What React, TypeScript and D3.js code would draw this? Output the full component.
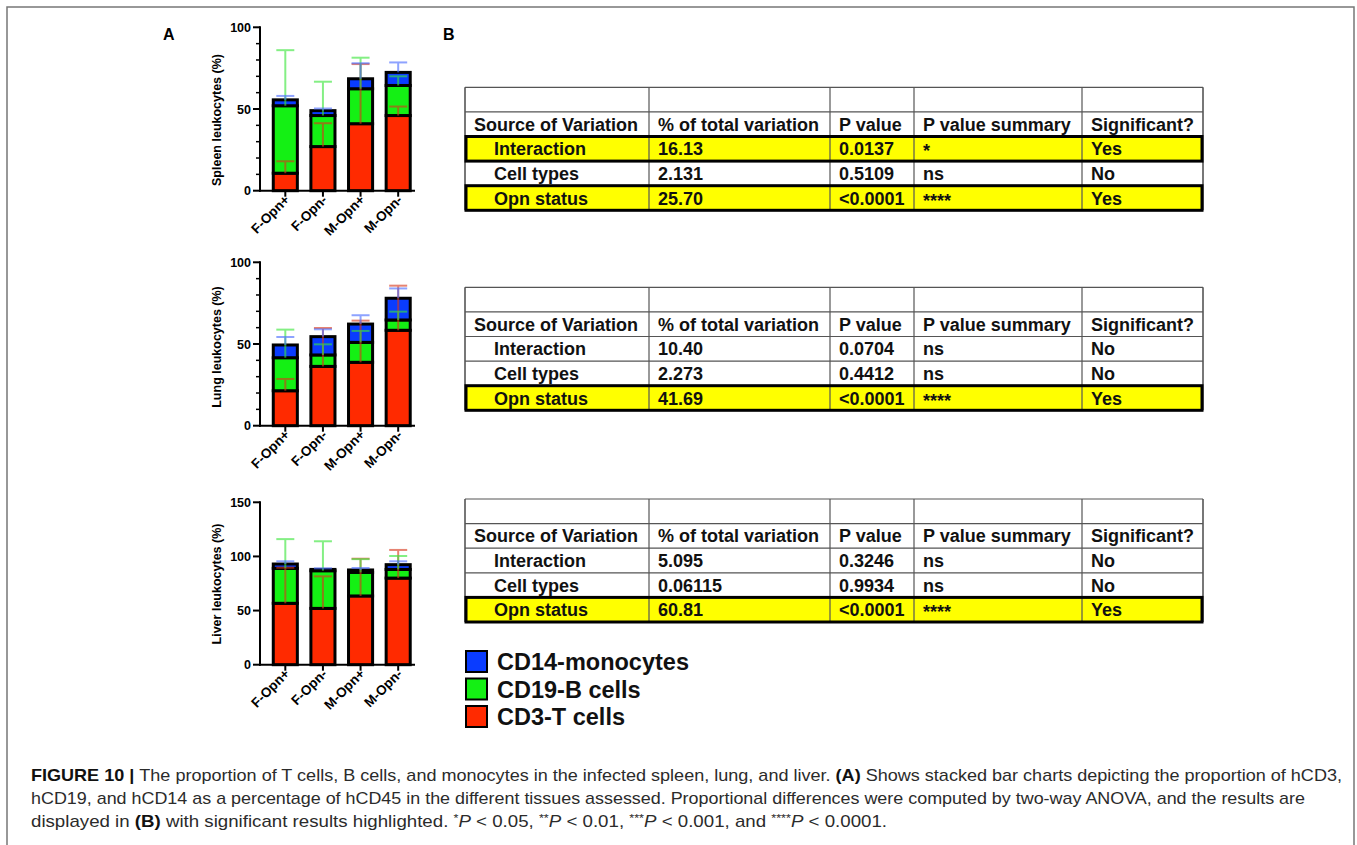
import React from "react";
import * as d3 from "d3";

// ---------- DATA ----------
const groups = ["F-Opn+", "F-Opn-", "M-Opn+", "M-Opn-"];
const cellKeys = ["cd3", "cd19", "cd14"];
const legendKeys = ["cd14", "cd19", "cd3"];
const legendLabels = ["CD14-monocytes", "CD19-B cells", "CD3-T cells"];

// Spleen (% of leukocytes): segment means and upper error (SD)
const spleenCD3 = [10.7, 27, 41, 46];
const spleenCD19 = [41.3, 19, 21.4, 18.4];
const spleenCD14 = [3.6, 3, 6.1, 8];
const spleenCD3Err = [7.3, 14.3, 36.5, 5.5];
const spleenCD19Err = [34, 20.7, 19, 5.6];
const spleenCD14Err = [2.4, 1.3, 9.5, 6.1];

// Lung
const lungCD3 = [21.4, 36.3, 38.8, 58.4];
const lungCD19 = [20.2, 7, 12.2, 6.3];
const lungCD14 = [7.8, 11.2, 11.2, 13.3];
const lungCD3Err = [7.2, 23.5, 25.5, 27.3];
const lungCD19Err = [17.2, 6.5, 7, 5.1];
const lungCD14Err = [4.9, 4.5, 5.4, 6];

// Liver
const liverCD3 = [56.7, 52, 63.5, 80];
const liverCD19 = [32.3, 34.8, 21.8, 8];
const liverCD14 = [4, 1.2, 2.2, 4.4];
const liverCD3Err = [32.9, 29.6, 34.4, 26];
const liverCD19Err = [27, 27.2, 12.2, 12.4];
const liverCD14Err = [2.5, 1, 1.8, 3.1];

const spleenTicks = [0, 50, 100];
const lungTicks = [0, 50, 100];
const liverTicks = [0, 50, 100, 150];

// ANOVA tables
const tableHeaders = ["Source of Variation", "% of total variation", "P value", "P value summary", "Significant?"];
const sources = ["Interaction", "Cell types", "Opn status"];
const spleenPct = ["16.13", "2.131", "25.70"];
const spleenP = ["0.0137", "0.5109", "<0.0001"];
const spleenSummary = ["*", "ns", "****"];
const spleenSig = ["Yes", "No", "Yes"];
const lungPct = ["10.40", "2.273", "41.69"];
const lungP = ["0.0704", "0.4412", "<0.0001"];
const lungSummary = ["ns", "ns", "****"];
const lungSig = ["No", "No", "Yes"];
const liverPct = ["5.095", "0.06115", "60.81"];
const liverP = ["0.3246", "0.9934", "<0.0001"];
const liverSummary = ["ns", "ns", "****"];
const liverSig = ["No", "No", "Yes"];

// ---------- STYLE ----------
const FILL: Record<string, string> = { cd3: "#ff2a00", cd19: "#14f014", cd14: "#0a3cff" };
const ERR: Record<string, string> = { cd3: "#d8381c", cd19: "#3ae63a", cd14: "#4a6cff" };
const FONT = "'Liberation Sans', Arial, Helvetica, sans-serif";

type Panel = {
  title: string;
  cd3: number[]; cd19: number[]; cd14: number[];
  e3: number[]; e19: number[]; e14: number[];
  ticks: number[]; max: number; y0: number; y1: number; minor: boolean; titleY: number;
};

const panels: Panel[] = [
  { title: "Spleen leukocytes (%)", cd3: spleenCD3, cd19: spleenCD19, cd14: spleenCD14, e3: spleenCD3Err, e19: spleenCD19Err, e14: spleenCD14Err, ticks: spleenTicks, max: 100, y0: 190.7, y1: 27.3, minor: true, titleY: 120 },
  { title: "Lung leukocytes (%)", cd3: lungCD3, cd19: lungCD19, cd14: lungCD14, e3: lungCD3Err, e19: lungCD19Err, e14: lungCD14Err, ticks: lungTicks, max: 100, y0: 425.7, y1: 262.3, minor: true, titleY: 347 },
  { title: "Liver leukocytes (%)", cd3: liverCD3, cd19: liverCD19, cd14: liverCD14, e3: liverCD3Err, e19: liverCD19Err, e14: liverCD14Err, ticks: liverTicks, max: 150, y0: 664.7, y1: 502.3, minor: false, titleY: 584 },
];

const AXIS_X = 260;
const AXIS_END = 415;

function BarPanel({ p }: { p: Panel }) {
  const x = d3.scaleBand<string>().domain(groups).range([266.5, 417]).paddingInner(0.36).paddingOuter(0.18);
  const y = d3.scaleLinear().domain([0, p.max]).range([p.y0, p.y1]);
  const rows = groups.map((g, i) => ({ g, cd3: p.cd3[i], cd19: p.cd19[i], cd14: p.cd14[i] }));
  const errs: Record<string, number[]> = { cd3: p.e3, cd19: p.e19, cd14: p.e14 };
  const stacked = d3.stack<any>().keys(cellKeys)(rows);
  const minorTicks = p.minor ? d3.range(0, p.max + 0.1, 10).filter((v) => v % 50 !== 0) : [];
  const bw = x.bandwidth();
  return (
    <g>
      {stacked.map((s) => (
        <g key={s.key}>
          {s.map((d, i) => (
            <rect key={i} x={x(groups[i])!} y={y(d[1])} width={bw} height={y(d[0]) - y(d[1])}
              fill={FILL[s.key]} stroke="#000" strokeWidth={3} />
          ))}
        </g>
      ))}
      {stacked.map((s) => (
        <g key={"e" + s.key} stroke={ERR[s.key]} strokeWidth={2} opacity={0.62}>
          {s.map((d, i) => {
            const cx = x(groups[i])! + bw / 2;
            const yt = y(d[1] + errs[s.key][i]);
            return (
              <g key={i}>
                <line x1={cx} x2={cx} y1={y(d[1])} y2={yt} />
                <line x1={cx - 9} x2={cx + 9} y1={yt} y2={yt} />
              </g>
            );
          })}
        </g>
      ))}
      <line x1={AXIS_X} x2={AXIS_X} y1={y(p.max) - 1} y2={y(0) + 1} stroke="#000" strokeWidth={2} />
      {p.ticks.map((t) => (
        <g key={t}>
          <line x1={AXIS_X - 7} x2={AXIS_X} y1={y(t)} y2={y(t)} stroke="#000" strokeWidth={2} />
          <text x={AXIS_X - 9} y={y(t) + 4.5} textAnchor="end" fontSize={12.5} fontWeight="bold" fontFamily={FONT}>{t}</text>
        </g>
      ))}
      {minorTicks.map((t) => (
        <line key={"m" + t} x1={AXIS_X - 4} x2={AXIS_X} y1={y(t)} y2={y(t)} stroke="#000" strokeWidth={1.5} />
      ))}
      <line x1={AXIS_X - 1} x2={AXIS_END} y1={y(0)} y2={y(0)} stroke="#000" strokeWidth={2} />
      {groups.map((g) => {
        const cx = x(g)! + bw / 2;
        return (
          <g key={g}>
            <line x1={cx} x2={cx} y1={y(0)} y2={y(0) + 6} stroke="#000" strokeWidth={2} />
            <text transform={`translate(${cx + 5},${y(0) + 10}) rotate(-45)`} textAnchor="end" fontSize={13.5} fontWeight="bold" fontFamily={FONT}>{g}</text>
          </g>
        );
      })}
      <text transform={`translate(221,${p.titleY}) rotate(-90)`} textAnchor="middle" fontSize={12.5} fontWeight="bold" fontFamily={FONT}>{p.title}</text>
    </g>
  );
}

const colEdges = [465, 649, 830, 914, 1082, 1203];
const ROW_H = 24.6;

type Table = { top: number; pct: string[]; p: string[]; summary: string[]; sig: string[] };
const tables: Table[] = [
  { top: 87.3, pct: spleenPct, p: spleenP, summary: spleenSummary, sig: spleenSig },
  { top: 287.3, pct: lungPct, p: lungP, summary: lungSummary, sig: lungSig },
  { top: 499, pct: liverPct, p: liverP, summary: liverSummary, sig: liverSig },
];

function AnovaTable({ t }: { t: Table }) {
  const rowY = d3.range(6).map((i) => t.top + i * ROW_H);
  const left = colEdges[0];
  const right = colEdges[colEdges.length - 1];
  const dataRows = sources.map((s, i) => [s, t.pct[i], t.p[i], t.summary[i], t.sig[i]]);
  return (
    <g fontFamily={FONT} fontWeight="bold" fontSize={18}>
      {dataRows.map((r, i) =>
        r[4] === "Yes" ? (
          <rect key={"h" + i} x={left} y={rowY[i + 2]} width={right - left} height={ROW_H} fill="#ffff00" />
        ) : null
      )}
      {rowY.map((yy, i) => (
        <line key={"r" + i} x1={left} x2={right} y1={yy} y2={yy} stroke="#555" strokeWidth={1.2} />
      ))}
      {colEdges.map((xx, i) => (
        <line key={"c" + i} x1={xx} x2={xx} y1={rowY[0]} y2={rowY[5]} stroke="#555" strokeWidth={i === 0 || i === colEdges.length - 1 ? 1.6 : 1.2} />
      ))}
      {dataRows.map((r, i) =>
        r[4] === "Yes" ? (
          <rect key={"b" + i} x={left + 1} y={rowY[i + 2]} width={right - left - 2} height={ROW_H} fill="none" stroke="#000" strokeWidth={3} />
        ) : null
      )}
      {tableHeaders.map((h, j) => (
        <text key={"th" + j} x={colEdges[j] + 9} y={rowY[1] + ROW_H / 2 + 6.5} fill="#111">{h}</text>
      ))}
      {dataRows.map((r, i) =>
        r.map((c, j) => (
          <text key={"td" + i + "_" + j} x={colEdges[j] + (j === 0 ? 29 : 9)} y={rowY[i + 2] + ROW_H / 2 + 6.5 + (c.includes("*") && !/[0-9]/.test(c) ? 2 : 0)} fill="#111">{c}</text>
        ))
      )}
    </g>
  );
}

function Legend() {
  return (
    <g fontFamily={FONT} fontWeight="bold" fontSize={23.5}>
      {legendKeys.map((k, i) => (
        <g key={k}>
          <rect x={466} y={651 + i * 27.5} width={21} height={21} fill={FILL[k]} stroke="#000" strokeWidth={2} />
          <text x={497} y={670 + i * 27.5} fill="#111">{legendLabels[i]}</text>
        </g>
      ))}
    </g>
  );
}

type Seg = { t: string; b?: boolean; i?: boolean; sup?: boolean };
const captionLine1: Seg[] = [
  { t: "FIGURE 10 | ", b: true },
  { t: "The proportion of T cells, B cells, and monocytes in the infected spleen, lung, and liver. " },
  { t: "(A)", b: true },
  { t: " Shows stacked bar charts depicting the proportion of hCD3," },
];
const captionLine2: Seg[] = [
  { t: "hCD19, and hCD14 as a percentage of hCD45 in the different tissues assessed. Proportional differences were computed by two-way ANOVA, and the results are" },
];
const captionLine3: Seg[] = [
  { t: "displayed in " }, { t: "(B)", b: true }, { t: " with significant results highlighted. " },
  { t: "*", sup: true }, { t: "P", i: true }, { t: " < 0.05, " },
  { t: "**", sup: true }, { t: "P", i: true }, { t: " < 0.01, " },
  { t: "***", sup: true }, { t: "P", i: true }, { t: " < 0.001, and " },
  { t: "****", sup: true }, { t: "P", i: true }, { t: " < 0.0001." },
];

function CaptionLine({ segs, y, len }: { segs: Seg[]; y: number; len: number }) {
  let prevSup = false;
  return (
    <text x={31} y={y} fontFamily={FONT} fontSize={17} fill="#2b2b2b" xmlSpace="preserve" textLength={len} lengthAdjust="spacingAndGlyphs">
      {segs.map((s, k) => {
        const dy = s.sup ? -5 : prevSup ? 5 : 0;
        prevSup = !!s.sup;
        return (
          <tspan key={k} dy={dy || undefined} fontWeight={s.b ? "bold" : "normal"} fontStyle={s.i ? "italic" : "normal"} fontSize={s.sup ? 11.5 : 17} fill={s.b ? "#111" : undefined}>
            {s.t}
          </tspan>
        );
      })}
    </text>
  );
}

export default function App() {
  return (
    <svg width={1357} height={845} style={{ position: "absolute", left: 0, top: 0, background: "#fff" }}>
      <rect x={0} y={0} width={1357} height={845} fill="#fff" />
      <path d="M7,850 V7 H1354 V850" fill="none" stroke="#777" strokeWidth={1.5} />
      <text x={163} y={40} fontFamily={FONT} fontWeight="bold" fontSize={16}>A</text>
      <text x={443} y={40} fontFamily={FONT} fontWeight="bold" fontSize={16}>B</text>
      {panels.map((p) => (
        <BarPanel key={p.title} p={p} />
      ))}
      {tables.map((t, i) => (
        <AnovaTable key={i} t={t} />
      ))}
      <Legend />
      <CaptionLine segs={captionLine1} y={781} len={1311} />
      <CaptionLine segs={captionLine2} y={804} len={1274} />
      <CaptionLine segs={captionLine3} y={827} len={856} />
    </svg>
  );
}
